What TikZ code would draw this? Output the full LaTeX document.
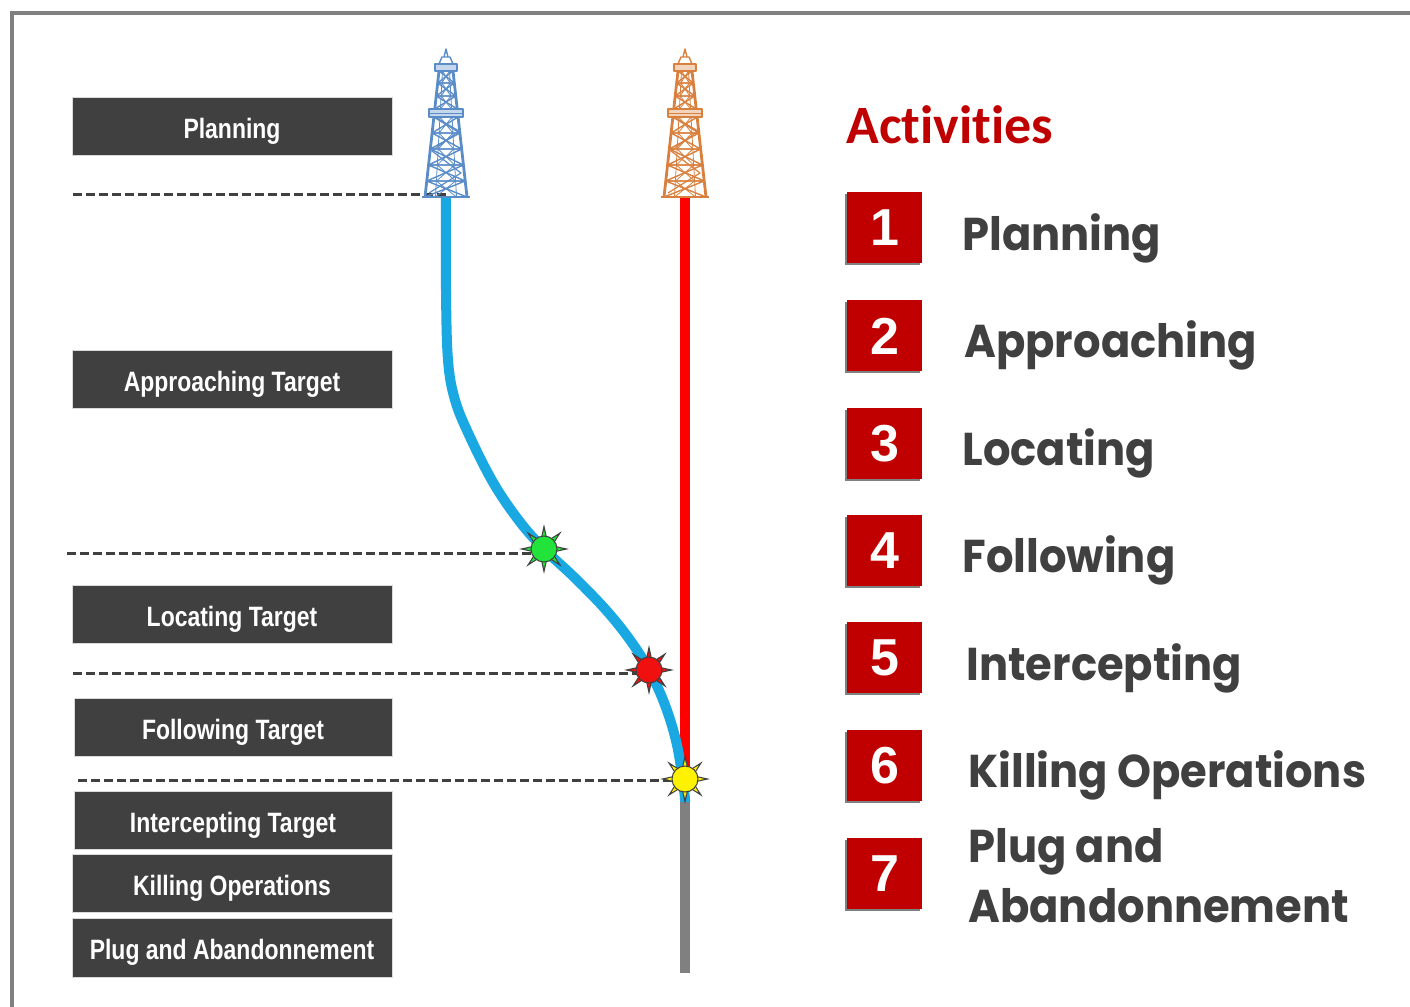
\documentclass[tikz,border=0pt]{standalone}
\usepackage{fontspec}
\setmainfont{Liberation Sans}
\newfontfamily\narrowfont[FakeStretch=0.82]{Liberation Sans}
\newfontfamily\headfont[Ligatures=NoCommon]{Carlito}
\newfontfamily\stepfont[FakeStretch=0.94]{Poppins}
\definecolor{boxgray}{HTML}{404040}
\definecolor{darkred}{HTML}{C00000}
\definecolor{wellblue}{HTML}{1AA8E2}
\definecolor{rigblue}{HTML}{5A8CC8}
\definecolor{rigorange}{HTML}{D9803E}
\definecolor{framegray}{HTML}{808080}
\definecolor{flaregreen}{HTML}{22E33A}
\definecolor{flarered}{HTML}{F01010}
\definecolor{flareyellow}{HTML}{FFF200}

\tikzset{
  phasebox/.style={fill=boxgray, draw=white!85!black, line width=0.4pt,
    minimum width=160pt, minimum height=29pt, inner sep=0pt,
    text height=12pt, text depth=0pt,
    text=white, font=\narrowfont\bfseries\fontsize{14}{16}\selectfont},
  guide/.style={draw=boxgray, line width=1.5pt, dash pattern=on 4.5pt off 2pt},
  numbox/.style={fill=darkred, minimum width=37.5pt, minimum height=35.5pt,
    inner sep=0pt, text=white, font=\bfseries\fontsize{26}{28}\selectfont},
  steplabel/.style={anchor=base west, inner sep=0pt, text=boxgray,
    font=\stepfont\bfseries\fontsize{23}{26}\selectfont},
  pics/derrick/.style={code={
    \begin{scope}[draw=#1, line width=0.7pt, line join=round]
      % lattice sections below and above the working platform
      \foreach \ya/\yb in {0/-16,-16/-32,-32/-48,-48/-64,-64/-80,-88/-101,-101/-114,-114/-126}{
        \pgfmathsetmacro\wa{21+14*\ya/126}
        \pgfmathsetmacro\wb{21+14*\yb/126}
        \draw (-\wa,\ya) -- (\wa,\ya) -- (-\wb,\yb) -- (\wb,\yb) -- cycle;
        \draw[line width=0.4pt] (-\wa/2,\ya) -- (-\wb/2,\yb) (\wa/2,\ya) -- (\wb/2,\yb)
          (-\wa/2,\ya) -- (\wb/2,\yb) (\wa/2,\ya) -- (-\wb/2,\yb);
      }
      % legs
      \draw[line width=1.4pt] (-21,0) -- (-7,-126) (21,0) -- (7,-126);
      % stairway
      \draw[line width=0.6pt] (-17,-4) -- (15,-24) -- (-14,-46) -- (13,-66) -- (-11,-80);
      % working platform
      \draw[fill=#1!35, line width=0.8pt] (-17,-80) rectangle (17,-88);
      \draw[line width=0.4pt] (-17,-84) -- (17,-84);
      % crown block and mast top
      \draw[fill=#1!35, line width=0.8pt] (-11,-126) rectangle (11,-133);
      \draw (-7,-133) -- (-4,-140) -- (4,-140) -- (7,-133);
      \draw (-2,-140) -- (0,-148) -- (2,-140);
      % feet
      \draw[line width=1pt] (-24,0) -- (24,0);
    \end{scope}
  }},
  pics/flare/.style={code={
    \foreach \a in {0,45,...,315}{
      \fill[boxgray] (\a-20:10) -- (\a:25) -- (\a+20:10) -- cycle;
      \fill[#1] (\a-9:12) -- (\a:19) -- (\a+9:12) -- cycle;
    }
    \filldraw[fill=#1, draw=boxgray, line width=0.5pt] (0,0) circle (13);
  }}
}

\begin{document}
\begin{tikzpicture}[x=0.5pt, y=-0.5pt]
  \useasboundingbox (0,0) rectangle (1410,1007);
  % frame
  \draw[framegray, line width=2pt] (12,1007) -- (12,13) -- (1410,13);

  % phase boxes on the left
  \node[phasebox] (planbox)  at (232,126)   {Planning};
  \node[phasebox] (apprbox)  at (232,379)   {Approaching Target};
  \node[phasebox] (locbox)   at (232,614.5) {Locating Target};
  \node[phasebox, minimum width=159pt] (follbox)  at (233,727) {Following Target};
  \node[phasebox, minimum width=159pt] (intbox)   at (233,820) {Intercepting Target};
  \node[phasebox] (killbox)  at (232,883)   {Killing Operations};
  \node[phasebox, minimum height=29.5pt] (plugbox) at (232,947.5) {Plug and Abandonnement};

  % rig sites and event points
  \coordinate (reliefrig) at (446,197);
  \coordinate (targetrig) at (685,197);
  \coordinate (located)   at (544,549);
  \coordinate (followed)  at (649,670);
  \coordinate (intercept) at (685,779);
  \coordinate (targetend) at (685,973);

  % phase boundaries
  \coordinate (g1) at (73,194);
  \coordinate (g2) at (67,553);
  \coordinate (g3) at (73,673);
  \coordinate (g4) at (78,780);
  \draw[guide] (g1) -- (g1 -| reliefrig);
  \draw[guide] (g2) -- (g2 -| located);
  \draw[guide] (g3) -- (g3 -| followed);
  \draw[guide] (g4) -- (g4 -| intercept);

  % target well and its plugged section
  \draw[red, line width=5pt] (targetrig) -- (685,792);
  \draw[framegray, line width=5pt] (685,800) -- (targetend);

  % relief well trajectory
  \draw[wellblue, line width=5pt, line cap=butt] plot[smooth, tension=0.6] coordinates {
    (reliefrig) (446,290) (448,360) (455,400) (470,437) (494,484)
    (520,522) (located) (575,578) (606,610) (630,640) (followed)
    (665,705) (677,745) (684,790) (685,802)};

  % drilling rigs
  \pic at (reliefrig) {derrick=rigblue};
  \pic at (targetrig) {derrick=rigorange};

  % event flares
  \pic at (located)   {flare=flaregreen};
  \pic at (followed)  {flare=flarered};
  \pic at (intercept) {flare=flareyellow};

  % activity list
  \node[anchor=base west, inner sep=0pt, text=darkred,
        font=\headfont\bfseries\fontsize{27}{30}\selectfont] (acthead) at (846,143) {Activities};
  \foreach \n/\yt in {1/192,2/300,3/408,4/515,5/622,6/730,7/838}{
    \fill[framegray] (845,\yt+2) rectangle (920,\yt+73);
    \node[numbox, anchor=north west] (num\n) at (847,\yt) {\n};
  }
  \node[steplabel] (step1)  at (962,250) {Planning};
  \node[steplabel] (step2)  at (964,357) {Approaching};
  \node[steplabel] (step3)  at (962,465) {Locating};
  \node[steplabel] (step4)  at (962,572) {Following};
  \node[steplabel] (step5)  at (966,680) {Intercepting};
  \node[steplabel] (step6)  at (968,787) {Killing Operations};
  \node[steplabel] (step7a) at (968,862) {Plug and};
  \node[steplabel] (step7b) at (968,922) {Abandonnement};
\end{tikzpicture}
\end{document}
